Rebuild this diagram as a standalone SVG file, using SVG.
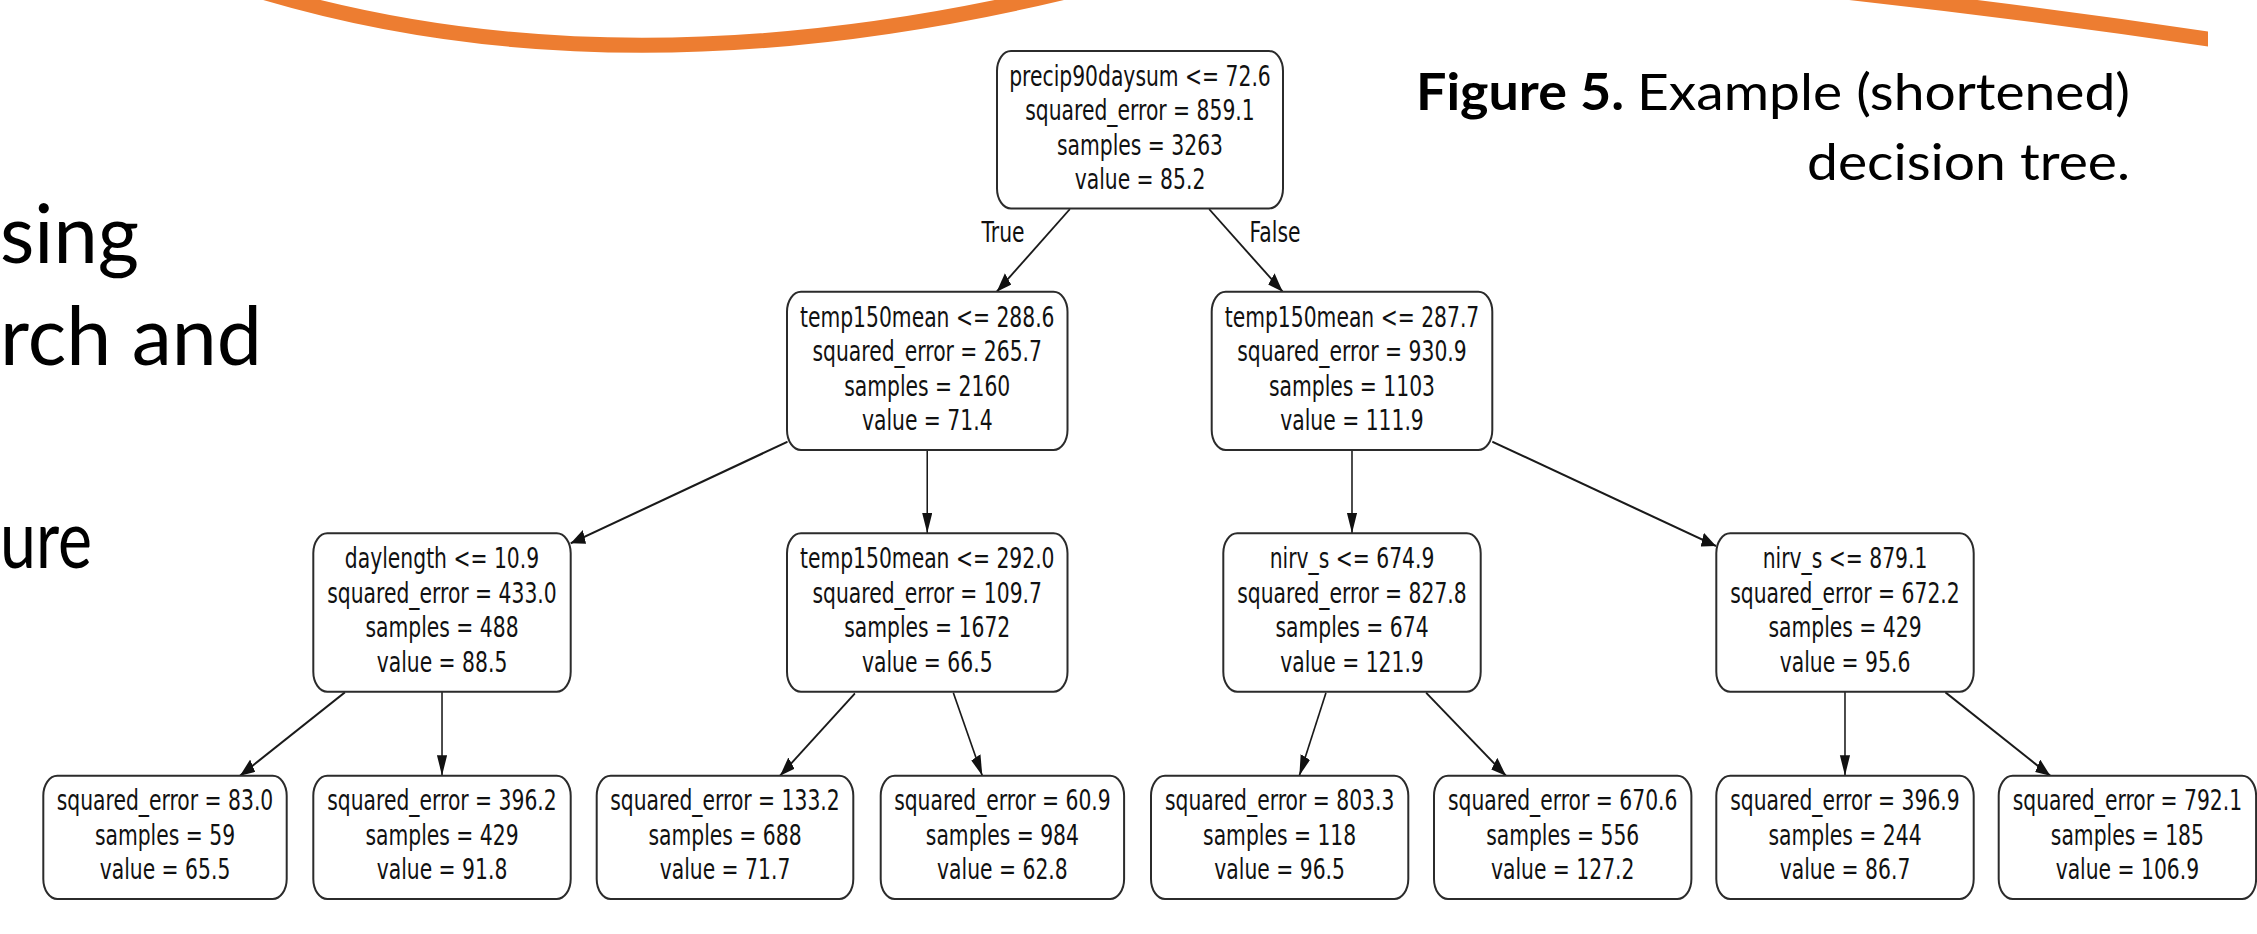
<svg xmlns="http://www.w3.org/2000/svg" width="2257" height="934" viewBox="0 0 2257 934">
  <defs>
    <style>
      .box{fill:#fff;stroke:#2b2b2b;stroke-width:2}
      .t{font-family:"DejaVu Sans",sans-serif;font-size:28.75px;fill:#111;text-anchor:middle}
      .edge{fill:none;stroke:#1a1a1a;stroke-width:2.2;marker-end:url(#head)}
      .slide{font-family:Lato,"Open Sans",sans-serif;fill:#000}
      .wave{fill:none;stroke:#ED7D31;stroke-width:15}
    </style>
    <marker id="head" markerUnits="userSpaceOnUse" markerWidth="21" markerHeight="15" refX="20.5" refY="7.2" orient="auto">
      <path d="M0,0 L20.5,7.2 L0,14.4 z" fill="#111"/>
    </marker>
    <clipPath id="cut"><rect x="0" y="0" width="2208" height="120"/></clipPath>
  </defs>

  <!-- decorative orange waves along the top -->
  <g id="waves">
    <path class="wave" d="M210,-25 Q620,118 1150,-30"/>
    <path class="wave" d="M1780,-15 Q2000,8 2215,40" clip-path="url(#cut)"/>
  </g>

  <!-- slide body text partly hidden behind the tree -->
  <g id="slide-text">
    <text class="slide" x="0" y="263" font-size="82" textLength="139" lengthAdjust="spacingAndGlyphs">sing</text>
    <text class="slide" x="0" y="365" font-size="82" textLength="262" lengthAdjust="spacingAndGlyphs">rch and</text>
    <text class="slide" x="0" y="568" font-size="82" textLength="92" lengthAdjust="spacingAndGlyphs">ure</text>
  </g>

  <!-- caption -->
  <g id="caption">
    <text class="slide" x="1416" y="110" font-size="51" font-weight="bold" textLength="208" lengthAdjust="spacingAndGlyphs">Figure 5.</text>
    <text class="slide" x="1637" y="110" font-size="51" textLength="493" lengthAdjust="spacingAndGlyphs">Example (shortened)</text>
    <text class="slide" x="1807" y="180" font-size="51" textLength="323" lengthAdjust="spacingAndGlyphs">decision tree.</text>
  </g>

  <!-- connectors, drawn in the horizontally condensed tree space -->
  <g id="connectors" transform="scale(0.707 1)">
    <path class="edge" d="M1513.4,209 L1409.8,291.7"/>
    <path class="edge" d="M1710.1,209 L1814.3,291.7"/>
    <path class="edge" d="M1113.9,441.7 L807.2,543.3"/>
    <path class="edge" d="M1311.5,450 L1311.5,533.3"/>
    <path class="edge" d="M1912.3,450 L1912.3,533.3"/>
    <path class="edge" d="M2110.8,441.7 L2427.2,546"/>
    <path class="edge" d="M488,692.3 L339.5,775.7"/>
    <path class="edge" d="M625.2,691.7 L625.2,775.7"/>
    <path class="edge" d="M1209.3,693.3 L1103.3,775.7"/>
    <path class="edge" d="M1348.4,692.7 L1389.4,775.7"/>
    <path class="edge" d="M1875.5,692.7 L1837.8,775.7"/>
    <path class="edge" d="M2017,692.7 L2130.1,775.7"/>
    <path class="edge" d="M2609.6,691.7 L2609.6,775.7"/>
    <path class="edge" d="M2751.5,692.3 L2900,775.7"/>
  </g>

  <!-- branch labels -->
  <g id="edge-labels">
    <g transform="translate(1003 0) scale(0.707 1)"><text class="t" x="0" y="241.7">True</text></g>
    <g transform="translate(1275 0) scale(0.707 1)"><text class="t" x="0" y="242.5">False</text></g>
  </g>

  <!-- root -->
  <g id="n0">
    <rect class="box" x="997" y="51" width="286" height="157.5" rx="14" ry="20"/>
    <g transform="translate(1140 0) scale(0.707 1)">
      <text class="t" x="0" y="86">precip90daysum &lt;= 72.6</text>
      <text class="t" x="0" y="120.5">squared_error = 859.1</text>
      <text class="t" x="0" y="155">samples = 3263</text>
      <text class="t" x="0" y="189.5">value = 85.2</text>
    </g>
  </g>

  <!-- level 1 -->
  <g id="n1">
    <rect class="box" x="787" y="291.7" width="280.5" height="158.3" rx="14" ry="20"/>
    <g transform="translate(927.25 0) scale(0.707 1)">
      <text class="t" x="0" y="326.7">temp150mean &lt;= 288.6</text>
      <text class="t" x="0" y="361.2">squared_error = 265.7</text>
      <text class="t" x="0" y="395.7">samples = 2160</text>
      <text class="t" x="0" y="430.2">value = 71.4</text>
    </g>
  </g>
  <g id="n2">
    <rect class="box" x="1211.7" y="291.7" width="280.6" height="158.3" rx="14" ry="20"/>
    <g transform="translate(1352 0) scale(0.707 1)">
      <text class="t" x="0" y="326.7">temp150mean &lt;= 287.7</text>
      <text class="t" x="0" y="361.2">squared_error = 930.9</text>
      <text class="t" x="0" y="395.7">samples = 1103</text>
      <text class="t" x="0" y="430.2">value = 111.9</text>
    </g>
  </g>

  <!-- level 2 -->
  <g id="n3">
    <rect class="box" x="313.3" y="533.3" width="257.4" height="158.4" rx="14" ry="20"/>
    <g transform="translate(442 0) scale(0.707 1)">
      <text class="t" x="0" y="568.3">daylength &lt;= 10.9</text>
      <text class="t" x="0" y="602.8">squared_error = 433.0</text>
      <text class="t" x="0" y="637.3">samples = 488</text>
      <text class="t" x="0" y="671.8">value = 88.5</text>
    </g>
  </g>
  <g id="n4">
    <rect class="box" x="787" y="533.3" width="280.5" height="158.4" rx="14" ry="20"/>
    <g transform="translate(927.25 0) scale(0.707 1)">
      <text class="t" x="0" y="568.3">temp150mean &lt;= 292.0</text>
      <text class="t" x="0" y="602.8">squared_error = 109.7</text>
      <text class="t" x="0" y="637.3">samples = 1672</text>
      <text class="t" x="0" y="671.8">value = 66.5</text>
    </g>
  </g>
  <g id="n5">
    <rect class="box" x="1223.3" y="533.3" width="257.4" height="158.4" rx="14" ry="20"/>
    <g transform="translate(1352 0) scale(0.707 1)">
      <text class="t" x="0" y="568.3">nirv_s &lt;= 674.9</text>
      <text class="t" x="0" y="602.8">squared_error = 827.8</text>
      <text class="t" x="0" y="637.3">samples = 674</text>
      <text class="t" x="0" y="671.8">value = 121.9</text>
    </g>
  </g>
  <g id="n6">
    <rect class="box" x="1716.3" y="533.3" width="257.4" height="158.4" rx="14" ry="20"/>
    <g transform="translate(1845 0) scale(0.707 1)">
      <text class="t" x="0" y="568.3">nirv_s &lt;= 879.1</text>
      <text class="t" x="0" y="602.8">squared_error = 672.2</text>
      <text class="t" x="0" y="637.3">samples = 429</text>
      <text class="t" x="0" y="671.8">value = 95.6</text>
    </g>
  </g>

  <!-- leaves -->
  <g id="n7">
    <rect class="box" x="43.3" y="775.7" width="243.4" height="123.3" rx="14" ry="20"/>
    <g transform="translate(165 0) scale(0.707 1)">
      <text class="t" x="0" y="810.2">squared_error = 83.0</text>
      <text class="t" x="0" y="844.7">samples = 59</text>
      <text class="t" x="0" y="879.2">value = 65.5</text>
    </g>
  </g>
  <g id="n8">
    <rect class="box" x="313.3" y="775.7" width="257.4" height="123.3" rx="14" ry="20"/>
    <g transform="translate(442 0) scale(0.707 1)">
      <text class="t" x="0" y="810.2">squared_error = 396.2</text>
      <text class="t" x="0" y="844.7">samples = 429</text>
      <text class="t" x="0" y="879.2">value = 91.8</text>
    </g>
  </g>
  <g id="n9">
    <rect class="box" x="596.7" y="775.7" width="256.6" height="123.3" rx="14" ry="20"/>
    <g transform="translate(725 0) scale(0.707 1)">
      <text class="t" x="0" y="810.2">squared_error = 133.2</text>
      <text class="t" x="0" y="844.7">samples = 688</text>
      <text class="t" x="0" y="879.2">value = 71.7</text>
    </g>
  </g>
  <g id="n10">
    <rect class="box" x="880.7" y="775.7" width="243.4" height="123.3" rx="14" ry="20"/>
    <g transform="translate(1002.4 0) scale(0.707 1)">
      <text class="t" x="0" y="810.2">squared_error = 60.9</text>
      <text class="t" x="0" y="844.7">samples = 984</text>
      <text class="t" x="0" y="879.2">value = 62.8</text>
    </g>
  </g>
  <g id="n11">
    <rect class="box" x="1151" y="775.7" width="257.3" height="123.3" rx="14" ry="20"/>
    <g transform="translate(1279.65 0) scale(0.707 1)">
      <text class="t" x="0" y="810.2">squared_error = 803.3</text>
      <text class="t" x="0" y="844.7">samples = 118</text>
      <text class="t" x="0" y="879.2">value = 96.5</text>
    </g>
  </g>
  <g id="n12">
    <rect class="box" x="1434" y="775.7" width="257.4" height="123.3" rx="14" ry="20"/>
    <g transform="translate(1562.7 0) scale(0.707 1)">
      <text class="t" x="0" y="810.2">squared_error = 670.6</text>
      <text class="t" x="0" y="844.7">samples = 556</text>
      <text class="t" x="0" y="879.2">value = 127.2</text>
    </g>
  </g>
  <g id="n13">
    <rect class="box" x="1716.3" y="775.7" width="257.4" height="123.3" rx="14" ry="20"/>
    <g transform="translate(1845 0) scale(0.707 1)">
      <text class="t" x="0" y="810.2">squared_error = 396.9</text>
      <text class="t" x="0" y="844.7">samples = 244</text>
      <text class="t" x="0" y="879.2">value = 86.7</text>
    </g>
  </g>
  <g id="n14">
    <rect class="box" x="1998.7" y="775.7" width="257.4" height="123.3" rx="14" ry="20"/>
    <g transform="translate(2127.4 0) scale(0.707 1)">
      <text class="t" x="0" y="810.2">squared_error = 792.1</text>
      <text class="t" x="0" y="844.7">samples = 185</text>
      <text class="t" x="0" y="879.2">value = 106.9</text>
    </g>
  </g>
</svg>
